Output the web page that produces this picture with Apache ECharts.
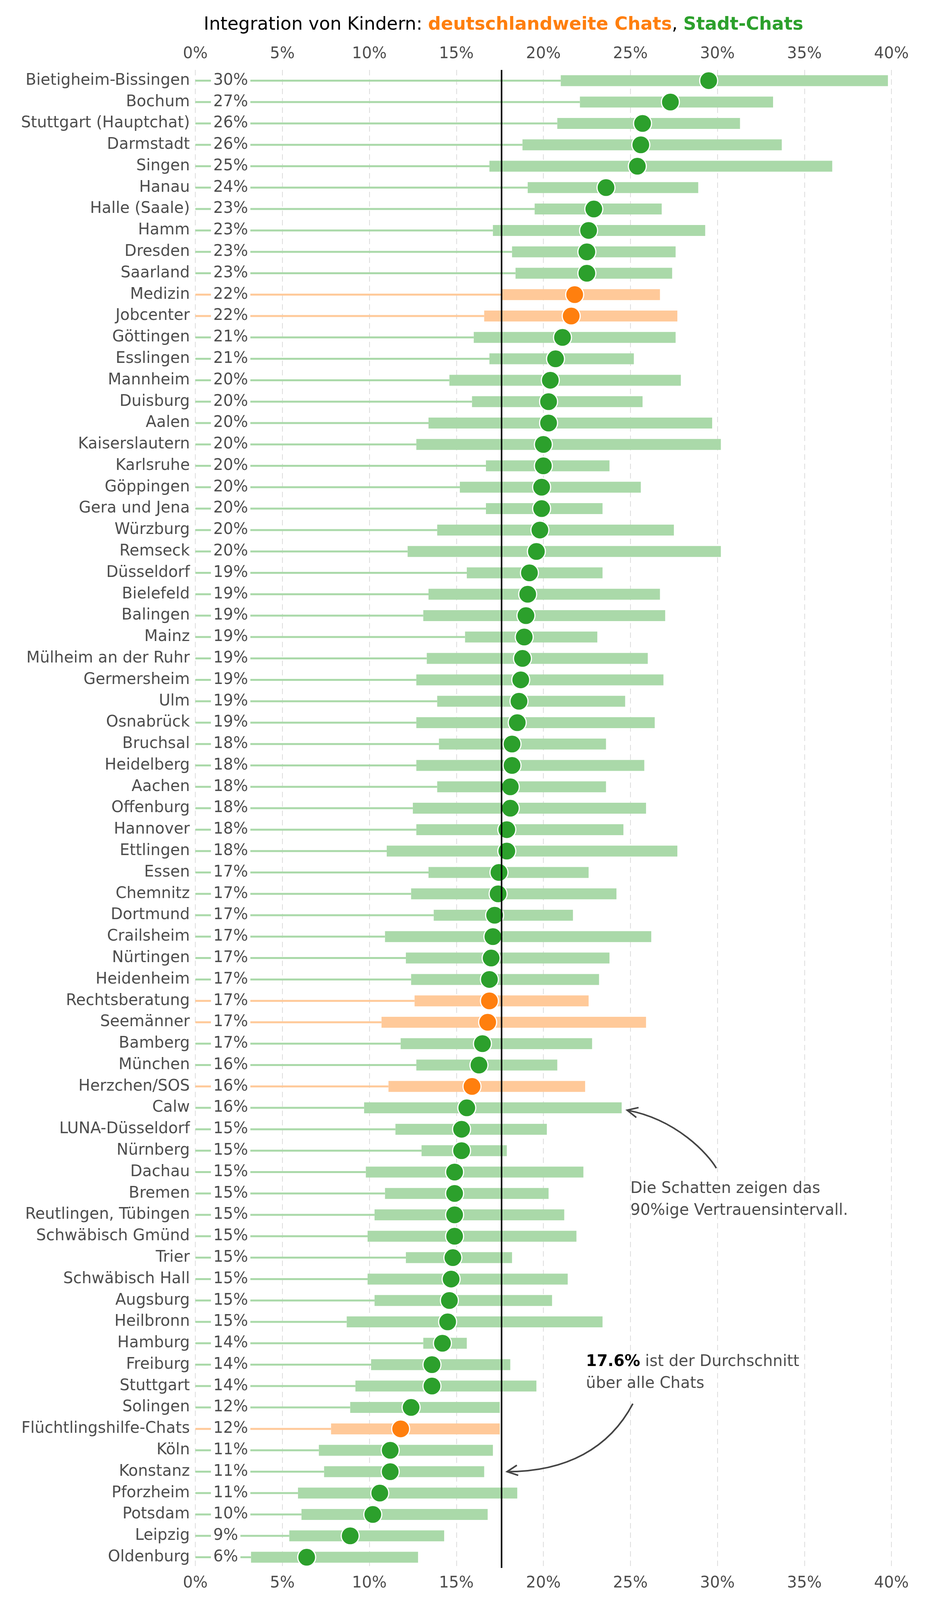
<!DOCTYPE html>
<html><head><meta charset="utf-8">
<script src="https://cdn.jsdelivr.net/npm/echarts@6/dist/echarts.min.js"></script>
<style>html,body{margin:0;background:#fff;overflow:hidden}#container{width:100vw;height:100vh}</style>
</head><body><div id="container"></div>
<script>
// Reihen von oben nach unten
var names = ['Bietigheim-Bissingen','Bochum','Stuttgart (Hauptchat)','Darmstadt','Singen','Hanau','Halle (Saale)','Hamm','Dresden','Saarland',
 'Medizin','Jobcenter','Göttingen','Esslingen','Mannheim','Duisburg','Aalen','Kaiserslautern','Karlsruhe','Göppingen',
 'Gera und Jena','Würzburg','Remseck','Düsseldorf','Bielefeld','Balingen','Mainz','Mülheim an der Ruhr','Germersheim','Ulm',
 'Osnabrück','Bruchsal','Heidelberg','Aachen','Offenburg','Hannover','Ettlingen','Essen','Chemnitz','Dortmund',
 'Crailsheim','Nürtingen','Heidenheim','Rechtsberatung','Seemänner','Bamberg','München','Herzchen/SOS','Calw','LUNA-Düsseldorf',
 'Nürnberg','Dachau','Bremen','Reutlingen, Tübingen','Schwäbisch Gmünd','Trier','Schwäbisch Hall','Augsburg','Heilbronn','Hamburg',
 'Freiburg','Stuttgart','Solingen','Flüchtlingshilfe-Chats','Köln','Konstanz','Pforzheim','Potsdam','Leipzig','Oldenburg'];
var values = [29.5,27.3,25.7,25.6,25.4,23.6,22.9,22.6,22.5,22.5,
 21.8,21.6,21.1,20.7,20.4,20.3,20.3,20.0,20.0,19.9,
 19.9,19.8,19.6,19.2,19.1,19.0,18.9,18.8,18.7,18.6,
 18.5,18.2,18.2,18.1,18.1,17.9,17.9,17.45,17.4,17.2,
 17.1,17.0,16.9,16.9,16.8,16.5,16.3,15.9,15.6,15.3,
 15.3,14.9,14.9,14.9,14.9,14.8,14.7,14.6,14.5,14.2,
 13.6,13.6,12.4,11.8,11.2,11.2,10.6,10.2,8.9,6.4];
var lows = [21.0,22.1,20.8,18.8,16.9,19.1,19.5,17.1,18.2,18.4,
 17.6,16.6,16.0,16.9,14.6,15.9,13.4,12.7,16.7,15.2,
 16.7,13.9,12.2,15.6,13.4,13.1,15.5,13.3,12.7,13.9,
 12.7,14.0,12.7,13.9,12.5,12.7,11.0,13.4,12.4,13.7,
 10.9,12.1,12.4,12.6,10.7,11.8,12.7,11.1,9.7,11.5,
 13.0,9.8,10.9,10.3,9.9,12.1,9.9,10.3,8.7,13.1,
 10.1,9.2,8.9,7.8,7.1,7.4,5.9,6.1,5.4,3.2];
var highs = [39.8,33.2,31.3,33.7,36.6,28.9,26.8,29.3,27.6,27.4,
 26.7,27.7,27.6,25.2,27.9,25.7,29.7,30.2,23.8,25.6,
 23.4,27.5,30.2,23.4,26.7,27.0,23.1,26.0,26.9,24.7,
 26.4,23.6,25.8,23.6,25.9,24.6,27.7,22.6,24.2,21.7,
 26.2,23.8,23.2,22.6,25.9,22.8,20.8,22.4,24.5,20.2,
 17.9,22.3,20.3,21.2,21.9,18.2,21.4,20.5,23.4,15.6,
 18.1,19.6,17.5,17.5,17.1,16.6,18.5,16.8,14.3,12.8];
var nationwide = ['Medizin','Jobcenter','Rechtsberatung','Seemänner','Herzchen/SOS','Flüchtlingshilfe-Chats'];
var mean = 17.6;

var dom = document.getElementById('container');
var myChart = echarts.init(dom);

var rows = names.map(function (n, i) {
    return [i, lows[i], highs[i], values[i], nationwide.indexOf(n) >= 0 ? 1 : 0];
});

function renderItem(params, api) {
    var y = api.value(0), lo = api.value(1), hi = api.value(2), v = api.value(3), orange = api.value(4);
    var light = orange ? '#ffc999' : '#aad9a9';
    var dark = orange ? '#ff7f0e' : '#2ca02c';
    var p0 = api.coord([0, y]), pl = api.coord([lo, y]), ph = api.coord([hi, y]), pv = api.coord([v, y]);
    return {
        type: 'group',
        children: [
            { type: 'line', shape: { x1: p0[0], y1: p0[1], x2: pl[0], y2: pl[1] }, style: { stroke: light, lineWidth: 5 } },
            { type: 'rect', shape: { x: pl[0], y: pl[1] - 14, width: ph[0] - pl[0], height: 28 }, style: { fill: light } },
            { type: 'text', x: p0[0] + 40, y: p0[1], style: { text: Math.round(v) + '%', fill: '#4d4d4d', font: '40px "DejaVu Sans"',
                verticalAlign: 'middle', backgroundColor: '#fff', padding: [0, 6] } },
            { type: 'circle', shape: { cx: pv[0], cy: pv[1], r: 23 }, style: { fill: dark, stroke: '#fff', lineWidth: 3 } }
        ]
    };
}

var axisCommon = {
    type: 'value', min: 0, max: 40, interval: 5,
    axisLine: { show: false }, axisTick: { show: false },
    axisLabel: { formatter: '{value}%', color: '#4d4d4d', fontSize: 40, fontFamily: 'DejaVu Sans', margin: 20 },
    splitLine: { show: true, lineStyle: { color: '#dddddd', type: [14, 10], width: 2 } }
};

option = {
    backgroundColor: '#fff',
    animation: false,
    title: {
        left: 1284, top: 36, textAlign: 'center',
        text: 'Integration von Kindern: {o|deutschlandweite Chats}, {g|Stadt-Chats}',
        textStyle: { fontSize: 46, fontWeight: 'normal', color: '#000', fontFamily: 'DejaVu Sans',
            rich: { o: { fontSize: 46, fontWeight: 'bold', color: '#ff7f0e', fontFamily: 'DejaVu Sans' },
                    g: { fontSize: 46, fontWeight: 'bold', color: '#2ca02c', fontFamily: 'DejaVu Sans' } } }
    },
    grid: { left: 500, right: 86, top: 179, bottom: 82 },
    xAxis: [
        Object.assign({ position: 'top' }, axisCommon),
        Object.assign({ position: 'bottom' }, axisCommon, { splitLine: { show: false } })
    ],
    yAxis: {
        type: 'category', data: names, inverse: true,
        axisLine: { show: false }, axisTick: { show: false },
        axisLabel: { color: '#4d4d4d', fontSize: 40, fontFamily: 'DejaVu Sans', margin: 14 }
    },
    series: [{
        type: 'custom', renderItem: renderItem, data: rows,
        encode: { x: [1, 2, 3], y: 0 },
        markLine: {
            symbol: 'none', silent: true, label: { show: false },
            lineStyle: { color: '#000', type: 'solid', width: 4 },
            data: [{ xAxis: mean }]
        },
        z: 2
    }]
};
myChart.setOption(option, true);

// Anmerkungen mit Pfeilen
var calw = myChart.convertToPixel({ gridIndex: 0 }, [highs[names.indexOf('Calw')], names.indexOf('Calw')]);
var konst = myChart.convertToPixel({ gridIndex: 0 }, [mean, names.indexOf('Konstanz')]);
var t1 = myChart.convertToPixel({ gridIndex: 0 }, [25, names.indexOf('Dachau')]);
var t2 = myChart.convertToPixel({ gridIndex: 0 }, [22, names.indexOf('Freiburg')]);
var annStyle = { fill: '#4d4d4d', font: '40px "DejaVu Sans"', lineHeight: 56 };
function arrowHead(x, y, ang) {
    var l = 30, a = 0.45;
    return { type: 'polyline', shape: { points: [[x + l * Math.cos(ang - a), y + l * Math.sin(ang - a)], [x, y], [x + l * Math.cos(ang + a), y + l * Math.sin(ang + a)]] },
        style: { stroke: '#444', lineWidth: 4, fill: null } };
}
myChart.setOption({
    graphic: [
        { type: 'text', x: t1[0], y: t1[1] + 15, style: Object.assign({ text: 'Die Schatten zeigen das\n90%ige Vertrauensintervall.' }, annStyle) },
        { type: 'bezierCurve', shape: { x1: t1[0] + 220, y1: t1[1] - 10, cpx1: t1[0] + 200, cpy1: calw[1] + 120, cpx2: t1[0] + 120, cpy2: calw[1] + 30, x2: calw[0] + 14, y2: calw[1] + 6 },
          style: { stroke: '#444', lineWidth: 4, fill: null } },
        arrowHead(calw[0] + 14, calw[1] + 6, Math.atan2(24, 106)),
        { type: 'text', x: t2[0] + 20, y: t2[1] - 35, style: { text: '{b|17.6%} ist der Durchschnitt\nüber alle Chats',
            fill: '#4d4d4d', fontSize: 40, fontFamily: 'DejaVu Sans', lineHeight: 56,
            rich: { b: { fontWeight: 'bold', fill: '#000', fontSize: 40, fontFamily: 'DejaVu Sans', lineHeight: 56 } } } },
        { type: 'bezierCurve', shape: { x1: t2[0] + 140, y1: t2[1] + 100, cpx1: t2[0] + 80, cpy1: konst[1] - 60, cpx2: t2[0] - 30, cpy2: konst[1], x2: konst[0] + 14, y2: konst[1] },
          style: { stroke: '#444', lineWidth: 4, fill: null } },
        arrowHead(konst[0] + 14, konst[1], Math.atan2(-8, 60))
    ]
});
</script>
</body></html>
